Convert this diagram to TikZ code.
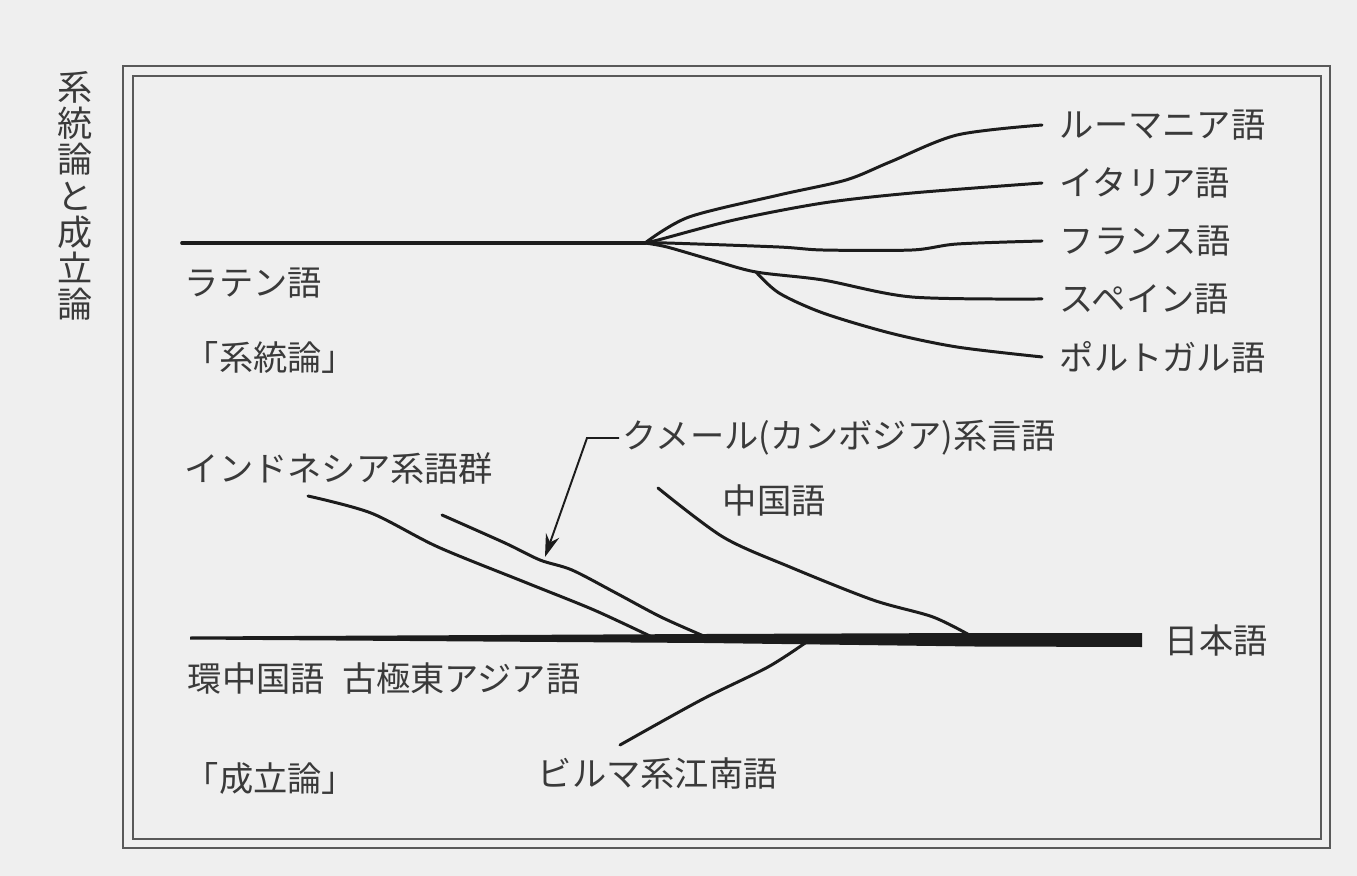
\documentclass[tikz,border=0pt]{standalone}
\usepackage{fontspec}
\newfontfamily\jpfont{Noto Sans CJK JP}
\usetikzlibrary{arrows.meta, positioning}
\definecolor{paper}{HTML}{EFEFEF}
\definecolor{ink}{HTML}{1C1C1C}
\definecolor{print}{HTML}{3A3A3A}

\begin{document}
\begin{tikzpicture}[x=0.02cm,y=-0.02cm,node distance=1.16cm]
\tikzstyle{label}=[font=\jpfont\fontsize{19.5}{22}\selectfont,text=print,inner sep=2pt]
\tikzstyle{lang}=[label,inner xsep=10pt]
\tikzstyle{branch}=[draw=ink,line width=1.7pt,line cap=round,line join=round]
\tikzstyle{pointer}=[draw=ink,line width=1.1pt,-{Stealth[length=13pt,width=8pt]}]
\tikzstyle{frame}=[draw=black!65,line width=1pt]

\fill[paper] (0,0) rectangle (1357,876);
\useasboundingbox (0,0) rectangle (1357,876);
\draw[frame] (123,66) rectangle (1330,848);
\draw[frame] (133,76) rectangle (1321,839);

\node[label,align=center,font=\jpfont\fontsize{20}{20.6}\selectfont] (title) at (75,196) {系\\統\\論\\と\\成\\立\\論};

% 系統論
\coordinate (latin) at (182,243);
\coordinate (fork) at (645,243);
\coordinate (split) at (756,272);
\node[lang,anchor=west] (ro) at (1042,125) {ルーマニア語};
\node[lang] (it) [below = of ro.west, anchor=west] {イタリア語};
\node[lang] (fr) [below = of it.west, anchor=west] {フランス語};
\node[lang] (es) [below = of fr.west, anchor=west] {スペイン語};
\node[lang] (pt) [below = of es.west, anchor=west] {ポルトガル語};
\node[label,anchor=west] (la) at (181,283) {ラテン語};
\node[label,anchor=west] (kei) at (181,357) {「系統論」};

\draw[branch,line width=2.1pt] (latin) -- (fork);
\draw[branch] plot[smooth] coordinates {(fork) (689,217) (779,195) (846,180) (890,162) (957,135) (ro.west)};
\draw[branch] plot[smooth] coordinates {(fork) (658,240) (734,220) (823,203) (912,193) (it.west)};
\draw[branch] plot[smooth] coordinates {(fork) (667,243) (779,247) (823,250) (912,250) (957,244) (fr.west)};
\draw[branch] plot[smooth] coordinates {(fork) (667,247) (712,260) (split) (823,280) (912,297) (es.west)};
\draw[branch] plot[smooth] coordinates {(split) (779,293) (823,313) (890,333) (957,347) (pt.west)};

% 成立論
\fill[ink] (190,636.5) -- (705,634) -- (975,633) -- (1142,633) -- (1142,647) -- (975,646.5) -- (705,643) -- (190,639.5) -- cycle;
\node[lang,anchor=west] (ja) at (1147,640) {日本語};
\node[label,anchor=west] (ring) at (184,678) {環中国語\enspace 古極東アジア語};
\node[label,anchor=west] (sei) at (181,778) {「成立論」};
\node[label,anchor=west] (id) at (181,468) {インドネシア系語群};
\node[label,anchor=west] (km) at (619,438) {クメール(カンボジア)系言語};
\node[label,anchor=west] (zh) at (719,500) {中国語};
\node[label,anchor=west] (my) at (534,773) {ビルマ系江南語};

\coordinate (idtop) at (308,496);
\coordinate (kmtop) at (442,515);
\coordinate (zhtop) at (658,488);
\coordinate (mytop) at (620,745);
\coordinate (kmtip) at (545,557);

\draw[branch] plot[smooth] coordinates {(idtop) (371,513) (438,547) (527,583) (594,610) (652,637)};
\draw[branch] plot[smooth] coordinates {(kmtop) (505,543) (540,560) (572,570) (616,593) (661,617) (706,637)};
\draw[branch] plot[smooth] coordinates {(zhtop) (723,537) (790,567) (873,600) (933,617) (973,637)};
\draw[branch] plot[smooth] coordinates {(mytop) (701,700) (768,667) (808,641)};
\draw[pointer] (km.west) -- (587,438) -- (kmtip);
\end{tikzpicture}
\end{document}
